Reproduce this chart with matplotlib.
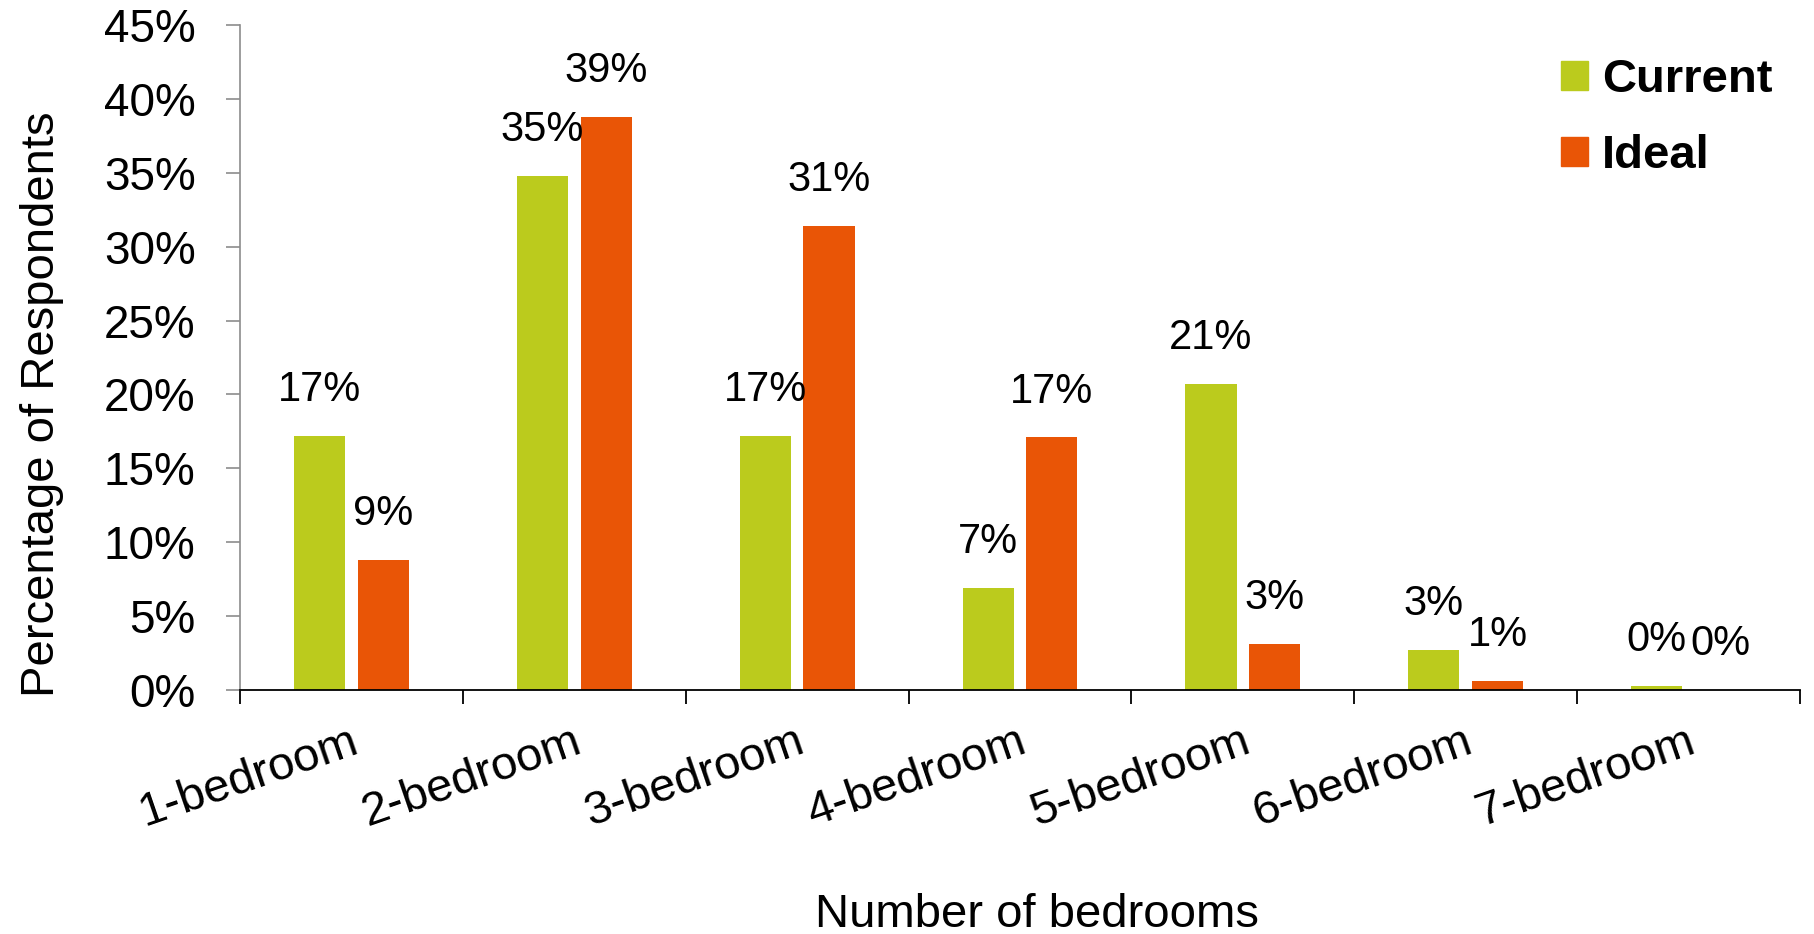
import numpy as np
import matplotlib.pyplot as plt
from matplotlib.patches import Patch
from matplotlib.transforms import ScaledTranslation

plt.rcParams["font.family"] = ["Liberation Sans", "DejaVu Sans"]

# Survey results, percent of respondents
categories = [
    "1-bedroom", "2-bedroom", "3-bedroom", "4-bedroom",
    "5-bedroom", "6-bedroom", "7-bedroom",
]
current = [17.2, 34.8, 17.2, 6.9, 20.7, 2.7, 0.3]
ideal = [8.8, 38.8, 31.4, 17.1, 3.1, 0.6, 0.0]
y_ticks = [0, 5, 10, 15, 20, 25, 30, 35, 40, 45]

GREEN = "#bbcb1d"
ORANGE = "#e95506"
GREY = "#8c8c8c"

fig = plt.figure(figsize=(18.15, 9.34), dpi=100)
ax = fig.add_axes([240 / 1815, 1 - 690 / 934, 1560 / 1815, 665 / 934])

x = np.arange(len(categories))
width = 0.23
offset = 0.143

bars_cur = ax.bar(x - offset, current, width, color=GREEN, label="Current")
bars_ide = ax.bar(x + offset, ideal, width, color=ORANGE, label="Ideal")

# value labels above each bar
for bars, vals in ((bars_cur, current), (bars_ide, ideal)):
    for b, v in zip(bars, vals):
        ax.annotate(
            f"{v:.0f}%",
            xy=(b.get_x() + b.get_width() / 2, b.get_height()),
            xytext=(0, 25),
            textcoords="offset points",
            ha="center",
            va="baseline",
            fontsize=30,
        )

ax.set_xlim(-0.5, len(categories) - 0.5)
ax.set_ylim(0, 45)

ax.set_yticks(y_ticks)
ax.set_yticklabels([f"{t}%" for t in y_ticks])
ax.tick_params(axis="y", direction="out", length=10, width=1.2,
               color=GREY, labelsize=33, pad=22)

# category labels at centres, tick marks at the boundaries
ax.set_xticks(x)
ax.set_xticklabels(categories, rotation=19, ha="right",
                   rotation_mode="default")
ax.set_xticks(np.arange(-0.5, len(categories)), minor=True)
ax.tick_params(axis="x", which="major", length=0, labelsize=34, pad=21.5)
ax.tick_params(axis="x", which="minor", direction="out", length=10,
               width=1.3, color="black")
shift = ScaledTranslation(9 / 72, 0, fig.dpi_scale_trans)
for lbl in ax.get_xticklabels():
    lbl.set_transform(lbl.get_transform() + shift)

for side in ("top", "right"):
    ax.spines[side].set_visible(False)
ax.spines["left"].set_color(GREY)
ax.spines["left"].set_linewidth(1.2)
ax.spines["bottom"].set_color("black")
ax.spines["bottom"].set_linewidth(1.3)

ax.set_ylabel("Percentage of Respondents", fontsize=34)
ax.yaxis.set_label_coords(-0.113, 0.43)
ax.set_xlabel("Number of bedrooms", fontsize=34)
ax.xaxis.set_label_coords(0.511, -0.305)

handles = [Patch(color=GREEN), Patch(color=ORANGE)]
fig.legend(
    handles,
    ["Current", "Ideal"],
    loc="upper left",
    bbox_to_anchor=(1561 / 1815, 1 - 58 / 934),
    frameon=False,
    borderpad=0,
    borderaxespad=0,
    handlelength=0.57,
    handleheight=0.57,
    handletextpad=0.3,
    labelspacing=0.68,
    prop={"size": 34, "weight": "bold"},
)

fig.savefig("out.png", dpi=100)
